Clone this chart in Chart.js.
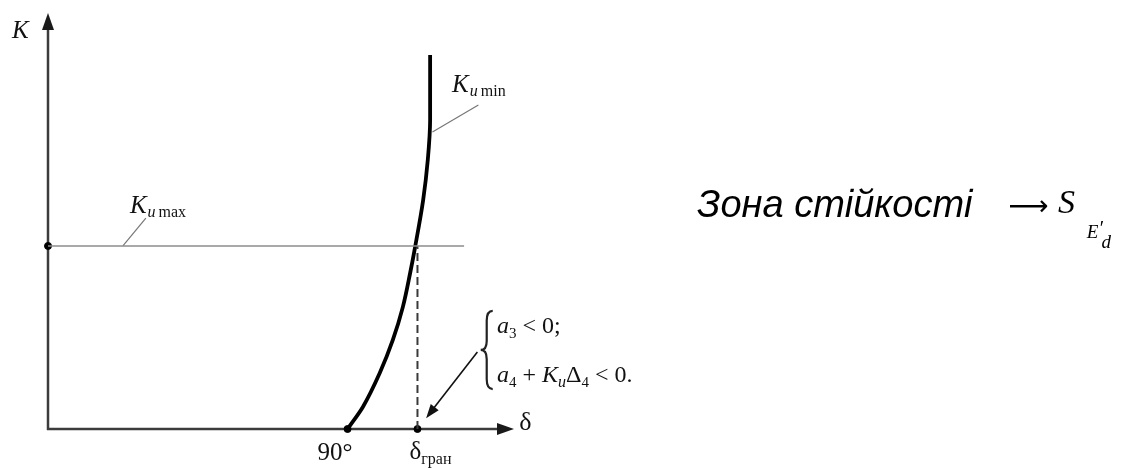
<!DOCTYPE html>
<html>
<head>
<meta charset="utf-8">
<script src="https://cdn.jsdelivr.net/npm/chart.js@4.4.1/dist/chart.umd.min.js"></script>
<style>
html,body{margin:0;padding:0;background:#fff;}
#wrap{width:1130px;height:468px;}
</style>
</head>
<body>
<div id="wrap"><canvas id="c" width="1130" height="468"></canvas></div>
<script>
/* ========= DATA ========= */
// K_u min curve (delta, K)
const curveDelta = [90, 94.6, 99.7, 103.6, 106.6, 108.8, 110.3, 112.7, 114.1, 114.8, 114.8];
const curveK     = [0, 5.3, 13.5, 21.4, 29.3, 37.5, 43.8, 55, 64.7, 74.3, 89.9];
// K_u max level
const kMax = 44;
const kMaxEnd = 125;
const deltaGran = 111;
const delta90 = 90;
// axis ranges
const xMin = 0, xMax = 140;
const yMin = 0, yMax = 100;
// leader lines [x1,y1,x2,y2]
const kMaxLeader = [22.5, 44, 29.4, 50.7];
const kMinLeader = [115.5, 71.4, 129.3, 77.9];
const pointer = [129, 18.5, 113.6, 2.6];

const curvePts = curveDelta.map((d,i)=>({x:d,y:curveK[i]}));

/* ========= DRAW HELPERS ========= */
function arrowHead(ctx,x1,y1,x2,y2,len,w){
const a=Math.atan2(y2-y1,x2-x1);
ctx.beginPath();
ctx.moveTo(x2,y2);
ctx.lineTo(x2-len*Math.cos(a)+w*Math.sin(a),y2-len*Math.sin(a)-w*Math.cos(a));
ctx.lineTo(x2-len*Math.cos(a)-w*Math.sin(a),y2-len*Math.sin(a)+w*Math.cos(a));
ctx.closePath();
ctx.fill();
}

// runs: [text, font, dy, extra gap]
function runs(ctx,x,y,list){
let cx=x;
list.forEach(r=>{
ctx.font=r[1];
ctx.fillText(r[0],cx,y+(r[2]||0));
cx+=ctx.measureText(r[0]).width+(r[3]||0);
});
}

const SERIF='"Liberation Serif","Times New Roman",serif';
const SANS='"Liberation Sans",Arial,sans-serif';

const axesPlugin={
id:"axesPlugin",
beforeDatasetsDraw(chart){
const ctx=chart.ctx, xs=chart.scales.x, ys=chart.scales.y;
const x0=xs.getPixelForValue(0), y0=ys.getPixelForValue(0);
const xe=xs.getPixelForValue(xMax), ye=ys.getPixelForValue(yMax);
ctx.save();
ctx.strokeStyle="#3c3c3c";
ctx.fillStyle="#1a1a1a";
ctx.lineWidth=2.5;
ctx.beginPath();
ctx.moveTo(x0,y0+1);ctx.lineTo(x0,ye+10);
ctx.moveTo(x0-1,y0);ctx.lineTo(xe-10,y0);
ctx.stroke();
arrowHead(ctx,x0,y0,x0,ye,17,6);
arrowHead(ctx,x0,y0,xe,y0,17,6);
ctx.restore();
},
afterDatasetsDraw(chart){
const ctx=chart.ctx, xs=chart.scales.x, ys=chart.scales.y;
const X=v=>xs.getPixelForValue(v), Y=v=>ys.getPixelForValue(v);
ctx.save();
ctx.fillStyle="#111";
// pointer arrowhead
arrowHead(ctx,X(pointer[0]),Y(pointer[1]),X(pointer[2]),Y(pointer[3]),14,5);

ctx.textBaseline="alphabetic";
ctx.textAlign="left";
// K axis label
runs(ctx,X(-10.8),Y(93.9),[["K","italic 25px "+SERIF]]);
// K_u max
runs(ctx,X(24.6),Y(51.9),[["K","italic 25px "+SERIF,0,1],["u","italic 16px "+SERIF,4,3],["max","16px "+SERIF,4]]);
// K_u min
runs(ctx,X(121.4),Y(81),[["K","italic 25px "+SERIF,0,1],["u","italic 16px "+SERIF,4,3],["min","16px "+SERIF,4]]);
// 90°
ctx.textAlign="center";
ctx.font="25px "+SERIF;
ctx.fillText("90°",X(86.2),Y(-7.5));
ctx.textAlign="left";
// delta gran
runs(ctx,X(108.6),Y(-7.2),[["δ","25px "+SERIF],["гран","16px "+SERIF,5]]);
// delta axis label
runs(ctx,X(141.6),Y(-0.3),[["δ","26px "+SERIF]]);
// conditions
runs(ctx,X(134.9),Y(23.1),[["a","italic 24px "+SERIF],["3","15px "+SERIF,5,6],["< 0;","24px "+SERIF]]);
runs(ctx,X(134.9),Y(11.3),[["a","italic 24px "+SERIF],["4","15px "+SERIF,5,6],["+ ","24px "+SERIF],["K","italic 24px "+SERIF],["u","italic 16px "+SERIF,5],["Δ","24px "+SERIF],["4","15px "+SERIF,5,6],["< 0.","24px "+SERIF]]);
// brace
const bx=X(130.6), bt=Y(28.4), bb=Y(9.6), bm=(bt+bb)/2;
ctx.strokeStyle="#222";ctx.lineWidth=2.2;
ctx.beginPath();
ctx.moveTo(bx+10,bt);
ctx.quadraticCurveTo(bx+4,bt,bx+4,bt+10);
ctx.lineTo(bx+4,bm-9);
ctx.quadraticCurveTo(bx+4,bm,bx-2,bm);
ctx.quadraticCurveTo(bx+4,bm,bx+4,bm+9);
ctx.lineTo(bx+4,bb-10);
ctx.quadraticCurveTo(bx+4,bb,bx+10,bb);
ctx.stroke();

// right side caption
ctx.fillStyle="#000";
runs(ctx,X(195),Y(51),[["Зона стійкості","italic 38px "+SANS]]);
runs(ctx,X(288.5),Y(51.4),[["⟶","28px \"DejaVu Sans\",sans-serif"]]);
runs(ctx,X(303.4),Y(51.9),[["S","italic 34px "+SERIF]]);
runs(ctx,X(312.1),Y(45.9),[["E","italic 19px "+SERIF]]);
runs(ctx,X(316),Y(46.6),[["′","20px "+SERIF]]);
runs(ctx,X(316.5),Y(43.6),[["d","italic 19px "+SERIF]]);
ctx.restore();
}
};

/* ========= CHART ========= */
new Chart(document.getElementById("c"),{
type:"scatter",
data:{
datasets:[
{label:"K_u max",type:"line",data:[{x:0,y:kMax},{x:kMaxEnd,y:kMax}],borderColor:"#8c8c8c",borderWidth:1.5,pointRadius:0},
{label:"gran",type:"line",data:[{x:deltaGran,y:0},{x:deltaGran,y:kMax}],borderColor:"#3a3a3a",borderWidth:2,borderDash:[8,4],pointRadius:0},
{label:"leader max",type:"line",data:[{x:kMaxLeader[0],y:kMaxLeader[1]},{x:kMaxLeader[2],y:kMaxLeader[3]}],borderColor:"#777",borderWidth:1.2,pointRadius:0},
{label:"leader min",type:"line",data:[{x:kMinLeader[0],y:kMinLeader[1]},{x:kMinLeader[2],y:kMinLeader[3]}],borderColor:"#777",borderWidth:1.2,pointRadius:0},
{label:"pointer",type:"line",data:[{x:pointer[0],y:pointer[1]},{x:pointer[2]+1.5,y:pointer[3]+1.6}],borderColor:"#111",borderWidth:1.6,pointRadius:0},
{label:"K_u min",type:"line",indexAxis:"y",data:curvePts,borderColor:"#000",borderWidth:3.8,pointRadius:0,cubicInterpolationMode:"monotone",clip:false},
{label:"points",data:[{x:0,y:kMax},{x:delta90,y:0},{x:deltaGran,y:0}],backgroundColor:"#000",borderColor:"#000",pointRadius:3.5,clip:false}
]
},
options:{
responsive:false,
animation:false,
layout:{padding:{left:48,right:616,top:13,bottom:39}},
plugins:{legend:{display:false},tooltip:{enabled:false}},
scales:{
x:{type:"linear",min:xMin,max:xMax,display:false},
y:{type:"linear",min:yMin,max:yMax,display:false}
}
},
plugins:[axesPlugin]
});
</script>
</body>
</html>
